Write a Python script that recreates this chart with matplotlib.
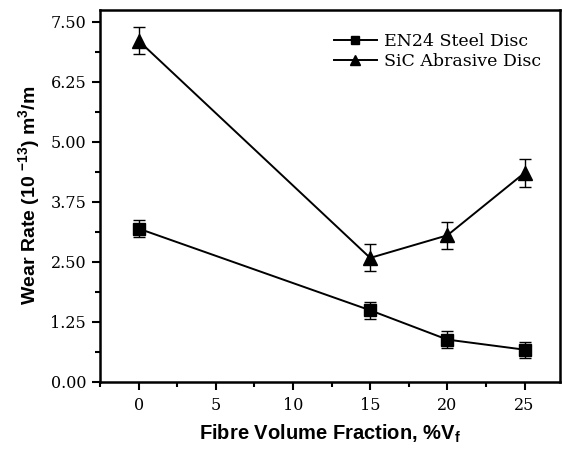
import matplotlib
matplotlib.use("Agg")
import matplotlib.pyplot as plt
from matplotlib.ticker import MultipleLocator, FormatStrFormatter
from matplotlib.lines import Line2D

x = [0, 15, 20, 25]
steel = [3.19, 1.49, 0.88, 0.67]
steel_err = [0.17, 0.18, 0.17, 0.17]
sic = [7.10, 2.58, 3.05, 4.35]
sic_err = [0.28, 0.28, 0.28, 0.29]
labels = ["EN24 Steel Disc", "SiC Abrasive Disc"]

fig = plt.figure(figsize=(5.62, 4.53), dpi=100)
ax = fig.add_axes([0.178, 0.157, 0.8185, 0.822])

ax.errorbar(x, steel, yerr=steel_err, color="black", marker="s", markersize=8,
            lw=1.4, capsize=4, elinewidth=1.0, capthick=1.0)
ax.errorbar(x, sic, yerr=sic_err, color="black", marker="^", markersize=10,
            lw=1.4, capsize=4, elinewidth=1.0, capthick=1.0)

ax.set_xlim(-2.5, 27.3)
ax.set_ylim(0, 7.75)
ax.xaxis.set_major_locator(MultipleLocator(5))
ax.xaxis.set_minor_locator(MultipleLocator(2.5))
ax.yaxis.set_major_locator(MultipleLocator(1.25))
ax.yaxis.set_minor_locator(MultipleLocator(0.625))
ax.yaxis.set_major_formatter(FormatStrFormatter("%.2f"))

ax.tick_params(which="both", direction="out", width=1.5, top=False, right=False)
ax.tick_params(which="major", length=6)
ax.tick_params(axis="x", which="major", pad=5)
ax.tick_params(axis="y", which="major", pad=4)
ax.tick_params(which="minor", length=3.5)
for lab in ax.get_xticklabels() + ax.get_yticklabels():
    lab.set_fontfamily("DejaVu Serif")
    lab.set_fontsize(11.5)
for s in ax.spines.values():
    s.set_linewidth(1.8)

ax.set_xlabel("Fibre Volume Fraction, %V$_\\mathregular{f}$", fontsize=14.5,
              fontweight="bold", family="Liberation Sans", labelpad=6)
ax.set_ylabel("Wear Rate (10 $^{\\mathregular{-13}}$) m$^{\\mathregular{3}}$/m", fontsize=14,
              fontweight="bold", family="Liberation Sans", labelpad=5)

handles = [Line2D([], [], color="black", lw=1.4, marker="s", markersize=6),
           Line2D([], [], color="black", lw=1.4, marker="^", markersize=7)]
leg = ax.legend(handles, labels, loc="upper right", frameon=False,
                prop={"family": "DejaVu Serif", "size": 12.5},
                handlelength=2.5, handletextpad=0.4, labelspacing=0.2,
                borderaxespad=0.3, bbox_to_anchor=(0.985, 0.97))

fig.savefig("out.png", dpi=100)
